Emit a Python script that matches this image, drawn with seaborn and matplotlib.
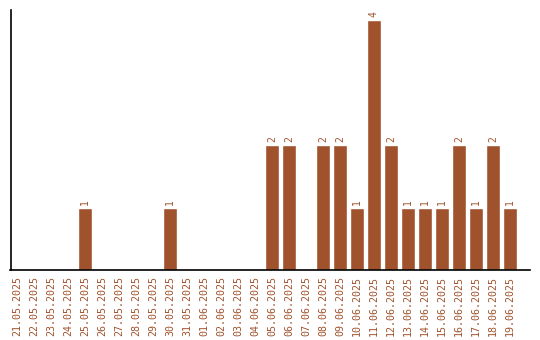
import matplotlib
matplotlib.use("Agg")
import matplotlib.pyplot as plt
import seaborn as sns
import pandas as pd

dates = ["21.05.2025", "22.05.2025", "23.05.2025", "24.05.2025", "25.05.2025",
         "26.05.2025", "27.05.2025", "28.05.2025", "29.05.2025", "30.05.2025",
         "31.05.2025", "01.06.2025", "02.06.2025", "03.06.2025", "04.06.2025",
         "05.06.2025", "06.06.2025", "07.06.2025", "08.06.2025", "09.06.2025",
         "10.06.2025", "11.06.2025", "12.06.2025", "13.06.2025", "14.06.2025",
         "15.06.2025", "16.06.2025", "17.06.2025", "18.06.2025", "19.06.2025"]
counts = [0, 0, 0, 0, 1, 0, 0, 0, 0, 1,
          0, 0, 0, 0, 0, 2, 2, 0, 2, 2,
          1, 4, 2, 1, 1, 1, 2, 1, 2, 1]

df = pd.DataFrame({"date": dates, "count": counts})

sns.set_style("white")
plt.rcParams['font.family'] = ['DejaVu Sans Mono']
color = "#A0522D"

fig = plt.figure(figsize=(5.4, 3.4), dpi=100)
ax = fig.add_axes([10.5 / 540, 70 / 340, (530 - 10.5) / 540, (270 - 10) / 340])
sns.barplot(data=df, x="date", y="count", color=color, saturation=1, width=0.83, ax=ax)

labels = [str(c) if c > 0 else "" for c in counts]
ax.bar_label(ax.containers[0], labels=labels, rotation=90, padding=2,
             color=color, fontsize=7)

ax.set_xlim(-0.38, 30.18)
ax.set_ylim(0, 4.16)
ax.set_yticks([])
ax.set_xlabel("")
ax.set_ylabel("")
ax.tick_params(axis="x", length=0, pad=4, labelsize=7.2, labelcolor=color, rotation=90)
for s in ["top", "right"]:
    ax.spines[s].set_visible(False)
for s in ["left", "bottom"]:
    ax.spines[s].set_color("black")
    ax.spines[s].set_linewidth(1.2)

fig.savefig("out.png", dpi=100)
